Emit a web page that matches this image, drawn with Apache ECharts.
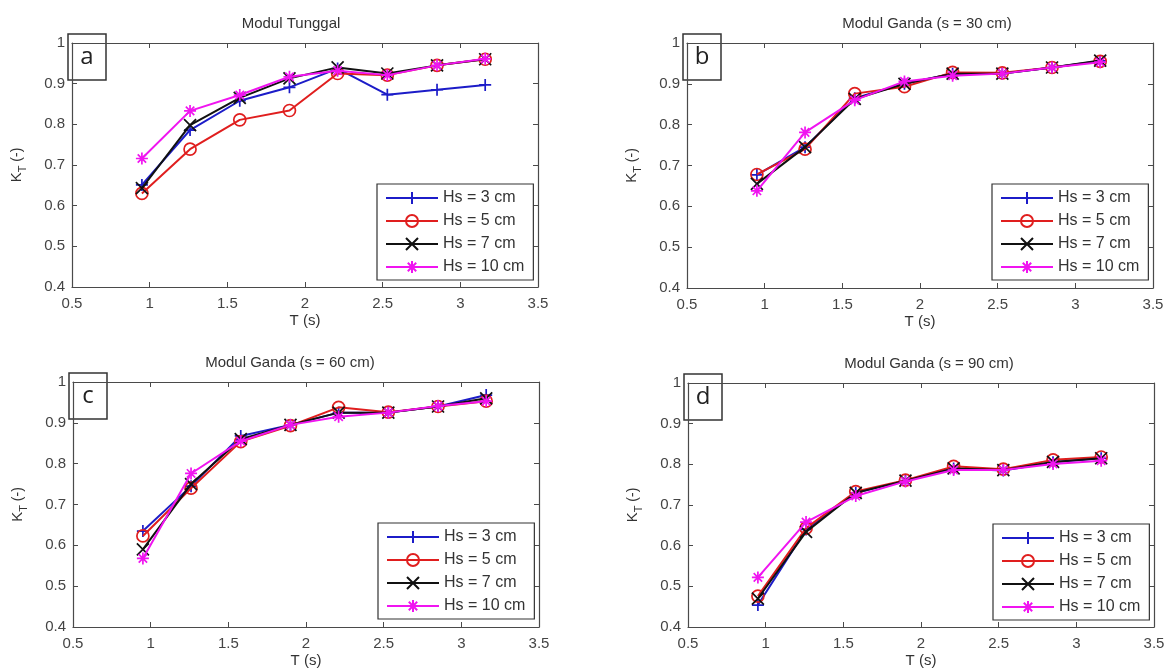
<!DOCTYPE html>
<html>
<head>
<meta charset="utf-8">
<title>Koefisien transmisi</title>
<script src="https://cdn.jsdelivr.net/npm/echarts@6/dist/echarts.min.js"></script>
<style>
  html, body { margin: 0; padding: 0; background: #fff; }
  #chart { width: 1172px; height: 671px; }
</style>
</head>
<body>
<div id="chart"></div>
<script>
// wave period T (s)
const periods = [0.95, 1.26, 1.58, 1.9, 2.21, 2.53, 2.85, 3.16];

const seriesNames = ['Hs = 3 cm', 'Hs = 5 cm', 'Hs = 7 cm', 'Hs = 10 cm'];
const panelTitles = ['Modul Tunggal', 'Modul Ganda (s = 30 cm)', 'Modul Ganda (s = 60 cm)', 'Modul Ganda (s = 90 cm)'];
const panelLetters = ['a', 'b', 'c', 'd'];

const xTicks = [0.5, 3.5, 0.5];   // min, max, step
const yTicks = [0.4, 1, 0.1];

// a: Modul Tunggal
const aHs3 = [0.651, 0.786, 0.858, 0.891, 0.937, 0.873, 0.885, 0.897];
const aHs5 = [0.630, 0.739, 0.811, 0.834, 0.925, 0.921, 0.945, 0.960];
const aHs7 = [0.643, 0.798, 0.865, 0.913, 0.940, 0.925, 0.945, 0.960];
const aHs10 = [0.716, 0.833, 0.872, 0.917, 0.932, 0.921, 0.945, 0.961];

// b: s = 30 cm
const bHs3 = [0.677, 0.745, 0.865, 0.900, 0.925, 0.925, 0.940, 0.956];
const bHs5 = [0.678, 0.740, 0.876, 0.893, 0.928, 0.927, 0.940, 0.955];
const bHs7 = [0.655, 0.745, 0.863, 0.900, 0.925, 0.925, 0.940, 0.957];
const bHs10 = [0.638, 0.781, 0.860, 0.906, 0.920, 0.925, 0.940, 0.953];

// c: s = 60 cm
const cHs3 = [0.635, 0.745, 0.868, 0.895, 0.925, 0.925, 0.940, 0.968];
const cHs5 = [0.623, 0.740, 0.854, 0.893, 0.938, 0.926, 0.940, 0.953];
const cHs7 = [0.590, 0.750, 0.860, 0.895, 0.925, 0.925, 0.940, 0.960];
const cHs10 = [0.568, 0.776, 0.855, 0.895, 0.915, 0.925, 0.941, 0.953];

// d: s = 90 cm
const dHs3 = [0.454, 0.640, 0.730, 0.760, 0.790, 0.785, 0.805, 0.815];
const dHs5 = [0.476, 0.643, 0.733, 0.761, 0.795, 0.788, 0.811, 0.818];
const dHs7 = [0.470, 0.634, 0.730, 0.760, 0.790, 0.786, 0.806, 0.815];
const dHs10 = [0.522, 0.658, 0.722, 0.758, 0.786, 0.786, 0.801, 0.809];

const panelData = [
  [aHs3, aHs5, aHs7, aHs10],
  [bHs3, bHs5, bHs7, bHs10],
  [cHs3, cHs5, cHs7, cHs10],
  [dHs3, dHs5, dHs7, dHs10],
];

const colors = ['#1c1cc8', '#e01e1e', '#111111', '#f014f0'];
const symbols = [
  'path://M5,0L5,10M0,5L10,5',
  'circle',
  'path://M0,0L10,10M10,0L0,10',
  'path://M5,0L5,10M0,5L10,5M1.5,1.5L8.5,8.5M8.5,1.5L1.5,8.5',
];

// plot boxes, px
const grids = [
  { left: 72, top: 43, width: 466, height: 244 },
  { left: 687, top: 43, width: 466, height: 245 },
  { left: 73, top: 382, width: 466, height: 245 },
  { left: 688, top: 383, width: 466, height: 244 },
];
const titleCenters = [291, 927, 290, 929];

const font = 'Liberation Sans, Arial, sans-serif';
const axisColor = '#4a4a4a';

function mainXAxis(i) {
  return {
    type: 'value', gridIndex: i, position: 'bottom',
    min: xTicks[0], max: xTicks[1], interval: xTicks[2],
    name: 'T (s)', nameLocation: 'middle', nameGap: 26,
    nameTextStyle: { fontFamily: font, fontSize: 15, color: '#333' },
    axisLine: { lineStyle: { color: axisColor, width: 1.2 } },
    axisTick: { inside: true, length: 5, lineStyle: { color: axisColor } },
    axisLabel: { fontFamily: font, fontSize: 15, color: '#444', margin: 9 },
    splitLine: { show: false },
  };
}

function boxXAxis(i) {
  return {
    type: 'value', gridIndex: i, position: 'top',
    min: xTicks[0], max: xTicks[1], interval: xTicks[2],
    axisLine: { lineStyle: { color: axisColor, width: 1.2 } },
    axisTick: { inside: true, length: 5, lineStyle: { color: axisColor } },
    axisLabel: { show: false },
    splitLine: { show: false },
  };
}

function mainYAxis(i) {
  return {
    type: 'value', gridIndex: i, position: 'left',
    min: yTicks[0], max: yTicks[1], interval: yTicks[2],
    name: '{k|K}{sub|T}{n| (-)}', nameLocation: 'middle', nameGap: 44, nameRotate: 90,
    nameTextStyle: {
      color: '#333',
      rich: {
        k: { fontFamily: font, fontSize: 15, color: '#333', lineHeight: 22, verticalAlign: 'middle' },
        sub: { fontFamily: font, fontSize: 11, color: '#333', lineHeight: 22, verticalAlign: 'bottom' },
        n: { fontFamily: font, fontSize: 14, color: '#333', lineHeight: 22, verticalAlign: 'middle' },
      },
    },
    axisLine: { show: true, lineStyle: { color: axisColor, width: 1.2 } },
    axisTick: { show: true, inside: true, length: 5, lineStyle: { color: axisColor } },
    axisLabel: { fontFamily: font, fontSize: 15, color: '#444', margin: 7 },
    splitLine: { show: false },
  };
}

function boxYAxis(i) {
  return {
    type: 'value', gridIndex: i, position: 'right',
    min: yTicks[0], max: yTicks[1], interval: yTicks[2],
    axisLine: { show: true, lineStyle: { color: axisColor, width: 1.2 } },
    axisTick: { show: true, inside: true, length: 5, lineStyle: { color: axisColor } },
    axisLabel: { show: false },
    splitLine: { show: false },
  };
}

function panelSeries(i) {
  return panelData[i].map((values, k) => ({
    name: seriesNames[k],
    type: 'line',
    xAxisIndex: i * 2,
    yAxisIndex: i * 2,
    data: periods.map((t, j) => [t, values[j]]),
    symbol: symbols[k],
    symbolSize: 12,
    showAllSymbol: true,
    lineStyle: { color: colors[k], width: 2 },
    itemStyle: {
      color: k === 1 ? 'rgba(0,0,0,0)' : colors[k],
      borderColor: colors[k],
      borderWidth: 1.7,
    },
    emphasis: { disabled: true },
    z: 2 + k,
  }));
}

function panelLegend(i) {
  const g = grids[i];
  return {
    orient: 'vertical',
    left: g.left + 305,
    top: g.top + 141,
    data: seriesNames,
    backgroundColor: '#fff',
    borderColor: '#333',
    borderWidth: 1.2,
    borderRadius: 0,
    padding: [5, 9, 4, 8],
    itemGap: 5,
    itemWidth: 52,
    itemHeight: 15,
    textStyle: { fontFamily: font, fontSize: 16, color: '#333', lineHeight: 18 },
    selectedMode: false,
    z: 10,
  };
}

function panelGraphics(i) {
  const g = grids[i];
  return [
    {
      type: 'text',
      x: titleCenters[i],
      y: g.top - 19,
      style: {
        text: panelTitles[i], fontFamily: font, fontSize: 15, fill: '#333',
        textAlign: 'center', textVerticalAlign: 'middle',
      },
      z: 20,
    },
    {
      type: 'group',
      x: g.left - 4,
      y: g.top - 9,
      z: 20,
      children: [
        {
          type: 'rect',
          shape: { x: 0, y: 0, width: 38, height: 46 },
          style: { fill: '#fff', stroke: '#333', lineWidth: 1.5 },
        },
        {
          type: 'text',
          x: 19, y: 23,
          style: {
            text: panelLetters[i], fontFamily: 'Open Sans, sans-serif', fontSize: 24, fill: '#222',
            textAlign: 'center', textVerticalAlign: 'middle',
          },
        },
      ],
    },
  ];
}

const chart = echarts.init(document.getElementById('chart'), null, { renderer: 'canvas' });

const xAxis = [];
const yAxis = [];
let series = [];
let graphic = [];
const legend = [];
for (let i = 0; i < 4; i++) {
  xAxis.push(mainXAxis(i), boxXAxis(i));
  yAxis.push(mainYAxis(i), boxYAxis(i));
  series = series.concat(panelSeries(i));
  graphic = graphic.concat(panelGraphics(i));
  legend.push(panelLegend(i));
}

chart.setOption({
  animation: false,
  backgroundColor: '#fff',
  grid: grids.map(g => ({ ...g, containLabel: false })),
  xAxis,
  yAxis,
  legend,
  graphic,
  series,
});
</script>
</body>
</html>
